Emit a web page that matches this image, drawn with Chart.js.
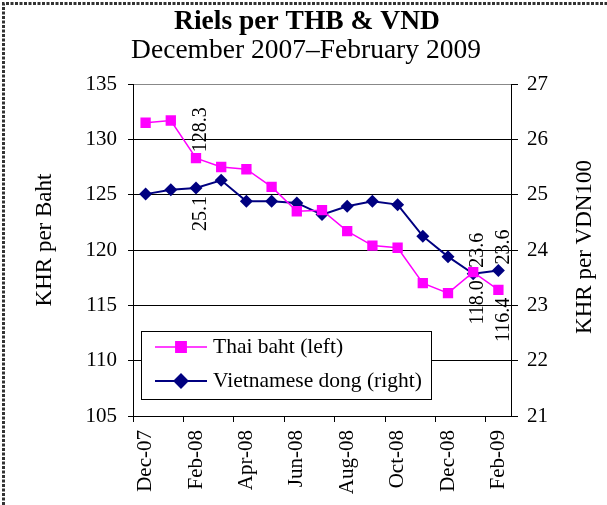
<!DOCTYPE html>
<html>
<head>
<meta charset="utf-8">
<script src="https://cdn.jsdelivr.net/npm/chart.js@4"></script>
<style>
  html, body { margin: 0; padding: 0; background: #fff; }
  canvas { display: block; }
</style>
</head>
<body>
<canvas id="chartRiels" width="607" height="505"></canvas>
<script>
// ── DATOS ──
const meses = ["Dec-07", "Jan-08", "Feb-08", "Mar-08", "Apr-08", "May-08", "Jun-08", "Jul-08",
    "Aug-08", "Sep-08", "Oct-08", "Nov-08", "Dec-08", "Jan-09", "Feb-09"];
const bahtValores = [131.5, 131.7, 128.3, 127.5, 127.3, 125.7, 123.5, 123.6,
    121.7, 120.4, 120.2, 117.0, 116.1, 118.0, 116.4];
const dongValores = [25.01, 25.09, 25.12, 25.26, 24.88, 24.88, 24.85, 24.64,
    24.79, 24.88, 24.82, 24.25, 23.88, 23.57, 23.63];
const ticksIzq = [105, 110, 115, 120, 125, 130, 135];
const ticksDer = [21, 22, 23, 24, 25, 26, 27];
const nombres = ["Thai baht (left)", "Vietnamese dong (right)"];
// etiquetas de valor: [serie, índice, lado]
const etiquetas = [[0, 2, "up"], [1, 2, "down"], [0, 13, "down"], [1, 13, "up"], [0, 14, "down"], [1, 14, "up"]];

const SERIF = "'Liberation Serif', 'Times New Roman', serif";
Chart.defaults.font.family = SERIF;
Chart.defaults.font.size = 21;
Chart.defaults.color = "#000";

const PINK = "#ff00ff";
const NAVY = "#000080";

// ── textos, leyenda y etiquetas dibujados a mano ──
const extras = {
    id: "extras",
    beforeDraw(chart) {
        const ctx = chart.ctx;
        ctx.save();
        ctx.strokeStyle = "#333";
        ctx.lineWidth = 3;
        ctx.setLineDash([3, 1.5]);
        ctx.beginPath();
        ctx.moveTo(3.5, 505); ctx.lineTo(3.5, 3.5); ctx.lineTo(607, 3.5);
        ctx.stroke();
        ctx.restore();
    },
    afterDraw(chart) {
        const ctx = chart.ctx;
        const a = chart.chartArea;
        ctx.save();
        ctx.fillStyle = "#000";
        ctx.textAlign = "center";
        ctx.textBaseline = "alphabetic";
        ctx.font = "bold 27.5px " + SERIF;
        ctx.fillText("Riels per THB & VND", 307, 29);
        ctx.font = "27.5px " + SERIF;
        ctx.fillText("December 2007\u2013February 2009", 306, 58);

        // títulos de ejes
        ctx.font = "23px " + SERIF;
        ctx.textBaseline = "middle";
        ctx.save(); ctx.translate(45, 240); ctx.rotate(-Math.PI / 2);
        ctx.fillText("KHR per Baht", 0, 0); ctx.restore();
        ctx.save(); ctx.translate(585, 247); ctx.rotate(-Math.PI / 2);
        ctx.fillText("KHR per VDN100", 0, 0); ctx.restore();

        // etiquetas de valor
        ctx.font = "20px " + SERIF;
        etiquetas.forEach(([d, i, lado]) => {
            const p = chart.getDatasetMeta(d).data[i];
            const v = chart.data.datasets[d].data[i].toFixed(1);
            ctx.save();
            ctx.translate(p.x + 5, lado === "up" ? p.y - 6 : p.y + 8);
            ctx.rotate(-Math.PI / 2);
            ctx.textAlign = lado === "up" ? "left" : "right";
            ctx.fillText(v, 0, 0);
            ctx.restore();
        });

        // leyenda
        const lx = a.left + 8, ly = 331, lw = 290, lh = 68;
        ctx.fillStyle = "#fff";
        ctx.fillRect(lx, ly, lw, lh);
        ctx.strokeStyle = "#000";
        ctx.lineWidth = 1;
        ctx.strokeRect(lx + 0.5, ly + 0.5, lw, lh);
        chart.data.datasets.forEach((ds, k) => {
            const y = ly + 16 + k * 34;
            ctx.strokeStyle = ds.borderColor;
            ctx.lineWidth = ds.borderWidth;
            ctx.beginPath(); ctx.moveTo(lx + 14, y); ctx.lineTo(lx + 66, y); ctx.stroke();
            Chart.helpers.drawPoint(ctx, {
                pointStyle: ds.pointStyle, radius: ds.pointRadius, borderWidth: 1
            }, lx + 40, y);
            ctx.fillStyle = ds.pointBackgroundColor;
            ctx.fill();
            ctx.fillStyle = "#000";
            ctx.textAlign = "left";
            ctx.textBaseline = "middle";
            ctx.font = "21.5px " + SERIF;
            ctx.fillText(ds.label, lx + 72, y);
        });
        ctx.restore();
    }
};

new Chart(document.getElementById("chartRiels"), {
    type: "line",
    data: {
        labels: meses,
        datasets: [{
            label: nombres[0], data: bahtValores, yAxisID: "y",
            borderColor: PINK, backgroundColor: PINK, borderWidth: 1.5,
            pointStyle: "rect", pointRadius: 7.3, pointBackgroundColor: PINK,
            pointBorderColor: PINK, pointBorderWidth: 0, tension: 0
        }, {
            label: nombres[1], data: dongValores, yAxisID: "y1",
            borderColor: NAVY, backgroundColor: NAVY, borderWidth: 2,
            pointStyle: "rectRot", pointRadius: 6.5, pointBackgroundColor: NAVY,
            pointBorderColor: NAVY, pointBorderWidth: 0, tension: 0
        }]
    },
    options: {
        responsive: false,
        animation: false,
        layout: { padding: { top: 84, left: 0, right: 0, bottom: 0 } },
        plugins: { legend: { display: false }, tooltip: { enabled: false } },
        scales: {
            x: {
                offset: true,
                grid: {
                    offset: true, drawOnChartArea: false, tickLength: 6,
                    tickColor: c => (c.index % 2 === 0 ? "#000" : "rgba(0,0,0,0)")
                },
                border: { color: "#000", width: 1 },
                ticks: {
                    autoSkip: false, maxRotation: 90, minRotation: 90, padding: 8,
                    callback: (v, i) => (i % 2 === 0 ? meses[i] : "")
                },
                afterFit: s => { s.height = 89; }
            },
            y: {
                position: "left", min: 105, max: 135,
                afterBuildTicks: s => { s.ticks = ticksIzq.map(v => ({ value: v })); },
                grid: {
                    color: c => (c.tick && c.tick.value === 135 ? "#888" : "#000"),
                    tickColor: "#000", tickLength: 5
                },
                border: { color: "#000", width: 1 },
                ticks: { padding: 11 },
                afterFit: s => { s.width = 133; }
            },
            y1: {
                position: "right", min: 21, max: 27,
                afterBuildTicks: s => { s.ticks = ticksDer.map(v => ({ value: v })); },
                grid: { drawOnChartArea: false, tickColor: "#000", tickLength: 7 },
                border: { color: "#000", width: 1 },
                ticks: { padding: 9 },
                afterFit: s => { s.width = 96; }
            }
        }
    },
    plugins: [extras]
});
</script>
</body>
</html>
